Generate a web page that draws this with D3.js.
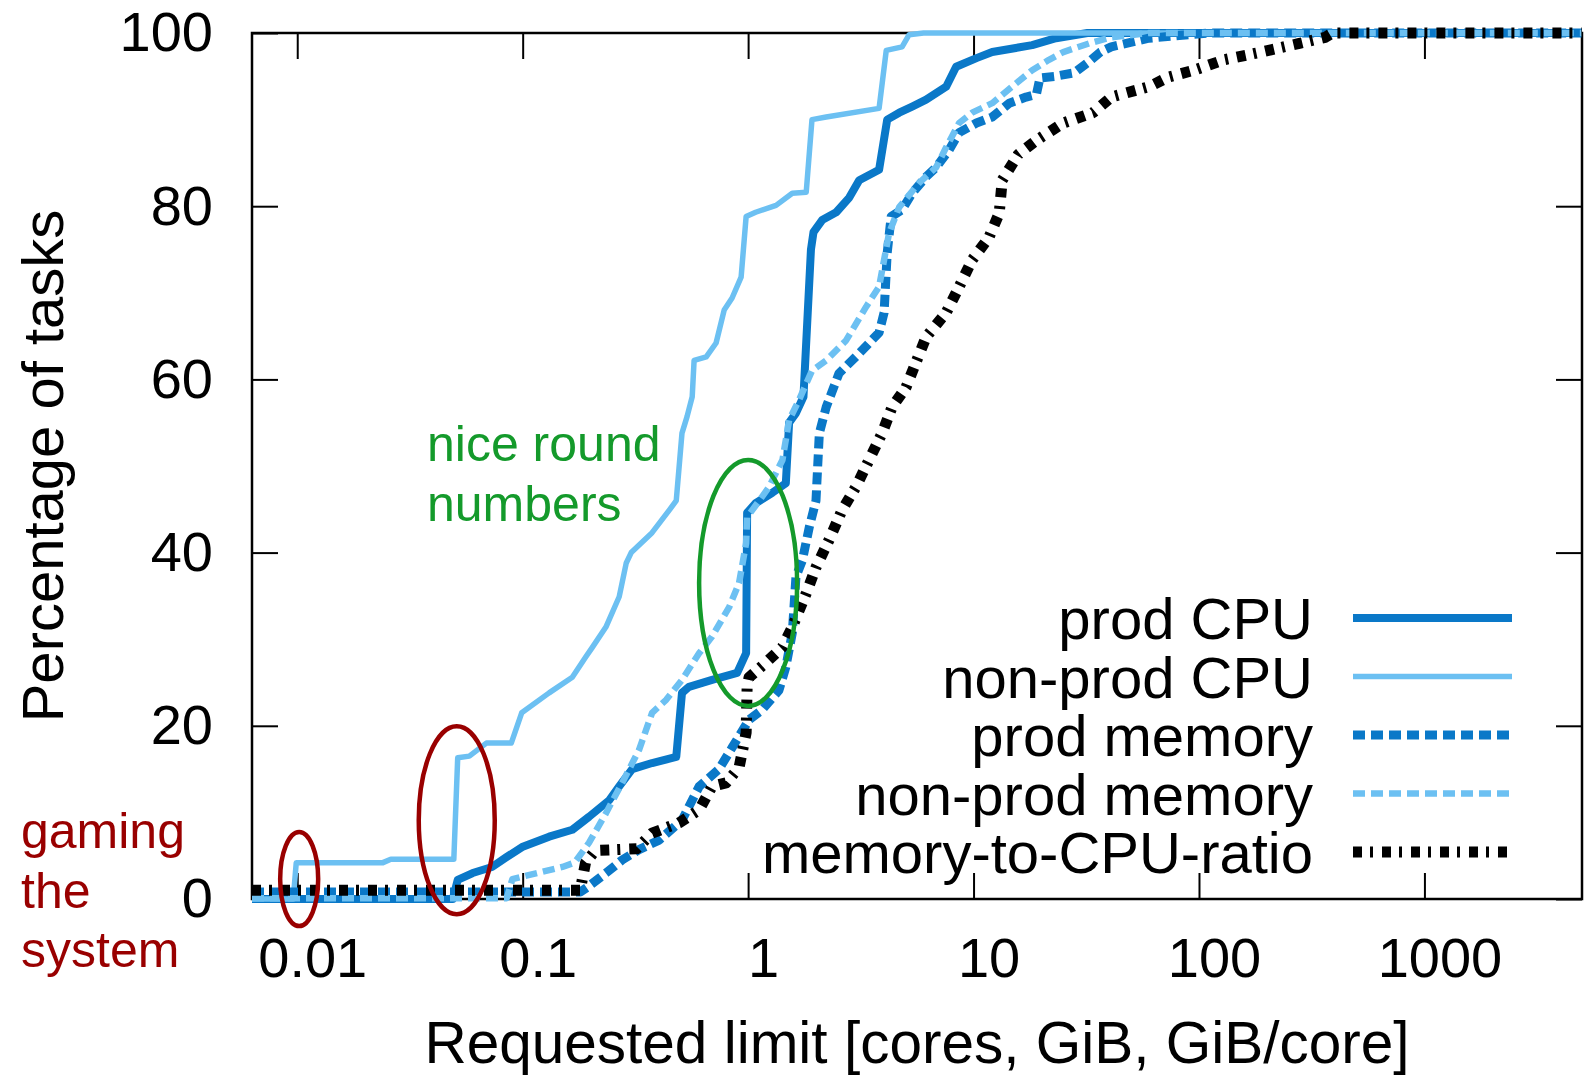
<!DOCTYPE html>
<html>
<head>
<meta charset="utf-8">
<script src="https://cdn.jsdelivr.net/npm/d3@7"></script>
<style>
  html, body { margin: 0; padding: 0; background: #fff; }
  svg { display: block; font-family: "Liberation Sans", Arial, Helvetica, sans-serif; }
</style>
</head>
<body>
<svg id="chart" width="1587" height="1079"></svg>
<script>
// ---- data: cumulative share of tasks (%) vs requested limit ----
const xTicks = [0.01, 0.1, 1, 10, 100, 1000];
const yTicks = [0, 20, 40, 60, 80, 100];
const seriesNames = ["prod CPU", "non-prod CPU", "prod memory", "non-prod memory", "memory-to-CPU-ratio"];

const prodCpu = [[0.0063,0],[0.049,0],[0.0515,2.2],[0.06,3.0],[0.0731,3.7],[0.0844,4.8],[0.0994,6.0],[0.131,7.2],[0.166,8.0],[0.197,9.5],[0.242,11.4],[0.268,13.0],[0.306,15.0],[0.375,15.7],[0.48,16.4],[0.509,23.8],[0.547,24.5],[0.692,25.3],[0.894,26.1],[0.98,28.4],[0.99,44.6],[1.08,45.7],[1.28,46.9],[1.47,48.0],[1.52,55.0],[1.63,56.1],[1.76,58.0],[1.90,75.0],[1.95,77.0],[2.13,78.4],[2.46,79.3],[2.81,81.0],[3.11,83.0],[3.81,84.2],[4.14,90.0],[4.68,90.8],[5.34,91.5],[6.16,92.3],[7.56,93.8],[8.37,96.1],[10.3,97.1],[12.1,97.8],[18.2,98.6],[23.2,99.4],[32,100],[5000,100]];

const nonProdCpu = [[0.0063,0],[0.0096,0],[0.0099,4.2],[0.024,4.2],[0.026,4.6],[0.0495,4.6],[0.0515,16.3],[0.058,16.5],[0.069,18.0],[0.089,18.0],[0.099,21.5],[0.131,23.8],[0.166,25.6],[0.191,28.0],[0.203,29.0],[0.234,31.4],[0.268,34.9],[0.288,38.8],[0.303,40.0],[0.375,42.3],[0.447,44.9],[0.48,46.0],[0.509,53.8],[0.536,55.7],[0.565,58.0],[0.576,62.2],[0.652,62.6],[0.721,64.2],[0.783,68.0],[0.849,69.4],[0.931,71.8],[0.98,78.8],[1.08,79.3],[1.33,80.1],[1.57,81.5],[1.81,81.6],[1.92,90.0],[2.22,90.3],[3.81,91.3],[4.10,98.0],[4.82,98.4],[5.18,99.8],[6,100],[5000,100]];

const prodMem = [[0.0063,0.8],[0.18,0.8],[0.197,1.5],[0.234,3.0],[0.276,4.5],[0.328,5.7],[0.403,6.8],[0.509,9.1],[0.607,13.0],[0.743,15.0],[0.85,17.5],[1.01,20.7],[1.15,21.8],[1.37,24.1],[1.47,26.8],[1.57,30.7],[1.63,37.2],[1.74,39.1],[1.87,43.0],[2.0,46.0],[2.07,53.8],[2.22,56.8],[2.53,60.7],[3.11,63.0],[3.81,65.4],[4.01,67.7],[4.14,74.6],[4.31,78.8],[4.82,79.6],[5.34,81.5],[6.16,83.4],[6.83,84.5],[7.79,86.5],[8.63,88.5],[10.3,89.6],[12.1,90.3],[14.4,91.9],[17.1,92.6],[19.0,92.9],[19.7,94.8],[23.0,95.0],[27.9,95.4],[32.6,96.7],[36.5,97.8],[40.8,98.4],[60,99.4],[90,99.8],[110,100],[5000,100]];

const nonProdMem = [[0.0063,0.1],[0.085,0.1],[0.09,2.3],[0.10,2.6],[0.15,3.7],[0.17,4.2],[0.197,6.5],[0.234,9.9],[0.276,13.4],[0.328,17.2],[0.375,21.5],[0.433,23.0],[0.509,25.3],[0.607,28.4],[0.692,30.3],[0.824,33.7],[0.912,36.5],[0.98,41.1],[0.99,44.1],[1.15,46.4],[1.24,47.6],[1.42,50.7],[1.52,55.3],[1.68,57.6],[1.92,61.0],[2.22,62.2],[2.72,64.5],[3.34,68.4],[3.81,70.7],[4.22,76.9],[4.68,79.9],[5.74,82.7],[6.83,84.5],[7.56,86.8],[8.63,89.6],[9.86,90.8],[12.1,91.9],[14.8,93.8],[18.2,95.7],[21.6,96.9],[25,97.8],[32.6,98.8],[40.8,99.5],[60,100],[5000,100]];

const memCpuRatio = [[0.0063,1.0],[0.18,1.0],[0.19,4.2],[0.21,5.6],[0.32,5.8],[0.375,7.6],[0.494,8.8],[0.607,10.3],[0.692,13.0],[0.798,13.4],[0.912,15.2],[0.98,19.2],[0.99,24.5],[1.01,25.6],[1.20,27.3],[1.42,29.1],[1.57,31.4],[1.81,35.3],[2.0,38.3],[2.29,41.5],[2.61,44.9],[3.01,47.6],[3.44,50.7],[3.93,53.8],[4.35,56.8],[5.02,59.1],[6.16,64.9],[7.56,67.7],[8.63,70.7],[9.86,73.8],[11.7,76.4],[13.0,79.2],[13.4,83.0],[15.8,86.0],[19.0,87.6],[25.0,89.6],[33.9,90.8],[40.8,92.6],[60.1,93.8],[73,94.9],[95,95.7],[129,96.9],[189,97.8],[279,98.8],[363,99.5],[390,100],[5000,100]];

// ---- layout ----
const plot = { left: 252, top: 33, right: 1582, bottom: 899 };
const svg = d3.select("#chart");

const x = d3.scaleLog().domain([0.0063, 5000]).range([plot.left, plot.right]);
const y = d3.scaleLinear().domain([0, 100]).range([plot.bottom, plot.top]);

const DARK = "#0a78c8", LIGHT = "#6cc0f2";
const styles = [
  { data: prodCpu,     color: DARK,   width: 8,   dash: null },
  { data: nonProdCpu,  color: LIGHT,  width: 5.5, dash: null },
  { data: prodMem,     color: DARK,   width: 9,   dash: "12,6" },
  { data: nonProdMem,  color: LIGHT,  width: 6.5, dash: "12,6" },
  { data: memCpuRatio, color: "#000", width: 11,  dash: "9,8,3,9" }
];

// ---- axes (ticks pointing inward on all four sides) ----
const tickFont = 56;
function styleAxis(g) {
  g.select(".domain").remove();
  g.selectAll(".tick line").attr("stroke", "#000").attr("stroke-width", 2);
  g.selectAll(".tick text").attr("font-size", tickFont).attr("fill", "#000")
    .attr("font-family", "\"Liberation Sans\", Arial, Helvetica, sans-serif");
}
const fmtX = d => (d < 1 ? String(d) : d3.format("d")(d));

svg.append("g").attr("transform", `translate(0,${plot.bottom})`)
  .call(d3.axisBottom(x).tickValues(xTicks).tickFormat(fmtX).tickSize(-26).tickPadding(38))
  .call(styleAxis)
  .call(g => g.selectAll(".tick text").attr("dx", 15));

svg.append("g").attr("transform", `translate(0,${plot.top})`)
  .call(d3.axisTop(x).tickValues(xTicks).tickFormat("").tickSize(-26))
  .call(styleAxis);

svg.append("g").attr("transform", `translate(${plot.left},0)`)
  .call(d3.axisLeft(y).tickValues(yTicks).tickSize(-26).tickPadding(39))
  .call(styleAxis);

svg.append("g").attr("transform", `translate(${plot.right},0)`)
  .call(d3.axisRight(y).tickValues(yTicks).tickFormat("").tickSize(-26))
  .call(styleAxis);

// frame
svg.append("rect")
  .attr("x", plot.left).attr("y", plot.top)
  .attr("width", plot.right - plot.left).attr("height", plot.bottom - plot.top)
  .attr("fill", "none").attr("stroke", "#000").attr("stroke-width", 2.5);

// axis titles
svg.append("text")
  .attr("x", 917).attr("y", 1063)
  .attr("text-anchor", "middle").attr("font-size", 58.5)
  .text("Requested limit [cores, GiB, GiB/core]");

svg.append("text")
  .attr("transform", "translate(63,466) rotate(-90)")
  .attr("text-anchor", "middle").attr("font-size", 58)
  .text("Percentage of tasks");

// ---- CDF curves ----
const line = d3.line().x(d => x(d[0])).y(d => y(d[1])).curve(d3.curveLinear);
const curves = svg.append("g").attr("fill", "none");
styles.forEach(s => {
  curves.append("path")
    .datum(s.data)
    .attr("d", line)
    .attr("stroke", s.color)
    .attr("stroke-width", s.width)
    .attr("stroke-linejoin", "round")
    .attr("stroke-dasharray", s.dash);
});

// ---- legend ----
const legend = svg.append("g");
seriesNames.forEach((name, i) => {
  const ly = 618 + i * 58.5;
  legend.append("text")
    .attr("x", 1313).attr("y", ly + 21)
    .attr("text-anchor", "end").attr("font-size", 58)
    .text(name);
  legend.append("line")
    .attr("x1", 1353).attr("x2", 1512).attr("y1", ly).attr("y2", ly)
    .attr("stroke", styles[i].color)
    .attr("stroke-width", styles[i].width)
    .attr("stroke-dasharray", styles[i].dash);
});

// ---- annotations ----
const GREEN = "#149a2b", RED = "#990000";
const notes = svg.append("g").attr("font-size", 50);
[["nice round", 461], ["numbers", 521]].forEach(([t, by]) =>
  notes.append("text").attr("x", 427).attr("y", by).attr("fill", GREEN).text(t));
[["gaming", 848], ["the", 908], ["system", 967]].forEach(([t, by]) =>
  notes.append("text").attr("x", 21).attr("y", by).attr("fill", RED).text(t));

const rings = [
  { v: 0.0102, p: 2.3,  rx: 19, ry: 47,  c: RED },
  { v: 0.051,  p: 9.1,  rx: 38, ry: 94,  c: RED },
  { v: 1.0,    p: 36.5, rx: 49, ry: 123, c: GREEN }
];
svg.append("g").selectAll("ellipse").data(rings).join("ellipse")
  .attr("cx", d => x(d.v)).attr("cy", d => y(d.p))
  .attr("rx", d => d.rx).attr("ry", d => d.ry)
  .attr("fill", "none").attr("stroke", d => d.c).attr("stroke-width", 4.5);
</script>
</body>
</html>
